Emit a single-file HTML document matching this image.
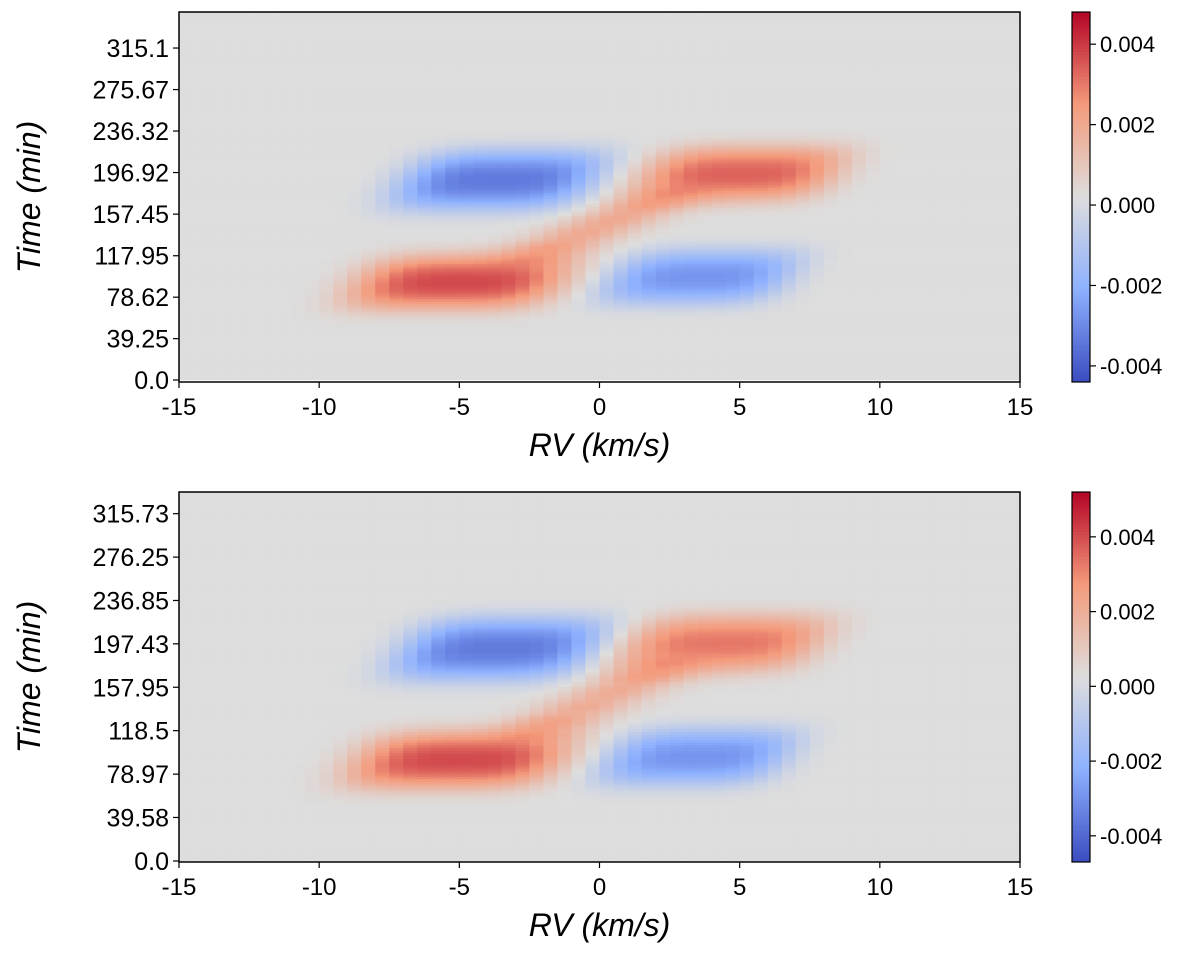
<!DOCTYPE html>
<html><head><meta charset="utf-8"><style>
body{margin:0;background:#fff;width:1200px;height:954px;overflow:hidden;position:relative;font-family:"Liberation Sans","DejaVu Sans",sans-serif}
</style></head><body>
<svg id="fig" width="1200" height="954" xmlns="http://www.w3.org/2000/svg" style="position:absolute;left:0;top:0"></svg>
<script>
// ---- data ----
const rvTicks = [-15,-10,-5,0,5,10,15];
const cbTicks = [-0.004,-0.002,0.000,0.002,0.004];
const cbTickLabels = ["-0.004","-0.002","0.000","0.002","0.004"];
const topTimeTicks = [0.0,39.25,78.62,117.95,157.45,196.92,236.32,275.67,315.1];
const topTimeLabels = ["0.0","39.25","78.62","117.95","157.45","196.92","236.32","275.67","315.1"];
const botTimeTicks = [0.0,39.58,78.97,118.5,157.95,197.43,236.85,276.25,315.73];
const botTimeLabels = ["0.0","39.58","78.97","118.5","157.95","197.43","236.85","276.25","315.73"];
// blob components: rv centre, time centre, amplitude
const topBlobRV   = [-3.6,5.0,-5.0,3.6,-2.0,-1.0,0.0,1.0,2.0];
const topBlobTime = [190,196,93,98,122,134,146,158,170];
const topBlobAmp  = [-0.0034,0.0033,0.0037,-0.0028,0.0012,0.0012,0.0012,0.0012,0.0011];
const botBlobRV   = [-3.6,4.4,-5.0,3.5,-2.0,-1.0,0.0,1.0,2.0];
const botBlobTime = [193,198,92,95,122,134,147,160,172];
const botBlobAmp  = [-0.0036,0.0032,0.0040,-0.0030,0.0013,0.0013,0.0013,0.0013,0.0012];
// shape parameters (not data)
const blobSR  = [2.9,2.9,3.1,2.7,1.1,1.1,1.1,1.1,1.1];
const blobST  = [25,23,23,23,10,10,10,10,10];
const blobPow = [4,4,4,4,2,2,2,2,2];
const shear = 0.03; // km/s per minute

const NS="http://www.w3.org/2000/svg";
const svg=document.getElementById('fig');
function mk(tag,attrs,parent){const e=document.createElementNS(NS,tag);for(const k in attrs)e.setAttribute(k,attrs[k]);(parent||svg).appendChild(e);return e;}
const cw=[[59,76,192],[141,176,254],[221,221,221],[244,154,123],[180,4,38]];
function cmap(t){t=Math.max(0,Math.min(1,t));const s=t*4;const i=Math.min(3,Math.floor(s));const f=s-i;const a=cw[i],b=cw[i+1];
return `rgb(${Math.round(a[0]+(b[0]-a[0])*f)},${Math.round(a[1]+(b[1]-a[1])*f)},${Math.round(a[2]+(b[2]-a[2])*f)})`;}

function panel(p){
  const g=mk('g',{});
  
  
  const xS=v=>p.x0+(v+15)/30*(p.x1-p.x0);
  const yS=t=>p.yZero-(t)*p.pxPerMin;
  const tMax=(p.yZero-p.y0)/p.pxPerMin;
  const cellsG=mk('g',{},g);
  
  
  const dRV=0.5,dT=2.4;
  for(let t=0;t<tMax;t+=dT){
    for(let rv=-15;rv<15;rv+=dRV){
      const rc=rv+dRV/2,tc=t+dT/2;let v=0;
      for(let k=0;k<p.bRV.length;k++){
        const dt=tc-p.bT[k];
        const a=(rc-p.bRV[k]-shear*dt)/blobSR[k],b=dt/blobST[k];
        v+=p.bA[k]*Math.exp(-0.5*Math.pow(Math.abs(a),blobPow[k])-0.5*b*b*(1+0.5*b*b));
      }
      const tt = v>=0 ? 0.5+0.5*v/p.vmax : 0.5-0.5*v/p.vmin;
      const c=cmap(tt);
      const ya=Math.max(p.y0,yS(t+dT));
      mk('rect',{x:xS(rv).toFixed(2),y:ya.toFixed(2),width:(xS(rv+dRV)-xS(rv)+0.3).toFixed(2),height:(yS(t)-ya+0.3).toFixed(2),fill:c},cellsG);
    }
  }
  const fr=mk('rect',{x:p.x0,y:p.y0,width:p.x1-p.x0,height:p.y1-p.y0,fill:'none',stroke:'#000','stroke-width':1.5},g);
  
  
  rvTicks.forEach(v=>{
    const x=xS(v);
    mk('line',{x1:x,x2:x,y1:p.y1,y2:p.y1+6,stroke:'#000','stroke-width':1.2},g);
    const t=mk('text',{x:x,y:p.y1+33,'text-anchor':'middle','font-size':24,fill:'#000'},g);
    t.textContent=(v<0?'-':'')+Math.abs(v);
    
    
  });
  p.tTicks.forEach((v,i)=>{
    const y=yS(v);
    mk('line',{x1:p.x0-6,x2:p.x0,y1:y,y2:y,stroke:'#000','stroke-width':1.2},g);
    const t=mk('text',{x:p.x0-10,y:y+9,'text-anchor':'end','font-size':25,fill:'#000'},g);
    t.textContent=p.tLabels[i];
    
    
  });
  const xl=mk('text',{x:(p.x0+p.x1)/2,y:p.y1+74,'text-anchor':'middle','font-size':32,'font-style':'italic',fill:'#000'},g);
  xl.textContent='RV (km/s)';
  
  
  const yl=mk('text',{x:0,y:0,'text-anchor':'middle','font-size':32,'font-style':'italic',fill:'#000',transform:`translate(40,${(p.y0+p.y1)/2}) rotate(-90)`},g);
  yl.textContent='Time (min)';
  
  
  const cb=mk('g',{},g);
  
  
  const cx=1072,cwid=18,n=120,h=p.y1-p.y0;
  for(let i=0;i<n;i++){
    mk('rect',{x:cx,y:(p.y0+i*h/n).toFixed(2),width:cwid,height:(h/n+0.5).toFixed(2),fill:cmap(1-(i+0.5)/n)},cb);
  }
  mk('rect',{x:cx,y:p.y0,width:cwid,height:h,fill:'none',stroke:'#000','stroke-width':1.2},cb);
  const cbY=v=>p.y0+(p.vmax-v)/(p.vmax-p.vmin)*h;
  cbTicks.forEach((v,i)=>{
    const y=cbY(v);
    mk('line',{x1:cx+cwid,x2:cx+cwid+6,y1:y,y2:y,stroke:'#000','stroke-width':1.2},cb);
    const t=mk('text',{x:cx+cwid+10,y:y+8,'font-size':22,fill:'#000'},cb);
    t.textContent=cbTickLabels[i];
    
    
  });
}
panel({name:'top-panel',x0:179,x1:1020,y0:12,y1:382,yZero:380,pxPerMin:1.0535,vmin:-0.0044,vmax:0.0048,
  tTicks:topTimeTicks,tLabels:topTimeLabels,bRV:topBlobRV,bT:topBlobTime,bA:topBlobAmp});
panel({name:'bottom-panel',x0:179,x1:1020,y0:492,y1:862,yZero:861,pxPerMin:1.1,vmin:-0.0047,vmax:0.0052,
  tTicks:botTimeTicks,tLabels:botTimeLabels,bRV:botBlobRV,bT:botBlobTime,bA:botBlobAmp});
</script>
</body></html>
